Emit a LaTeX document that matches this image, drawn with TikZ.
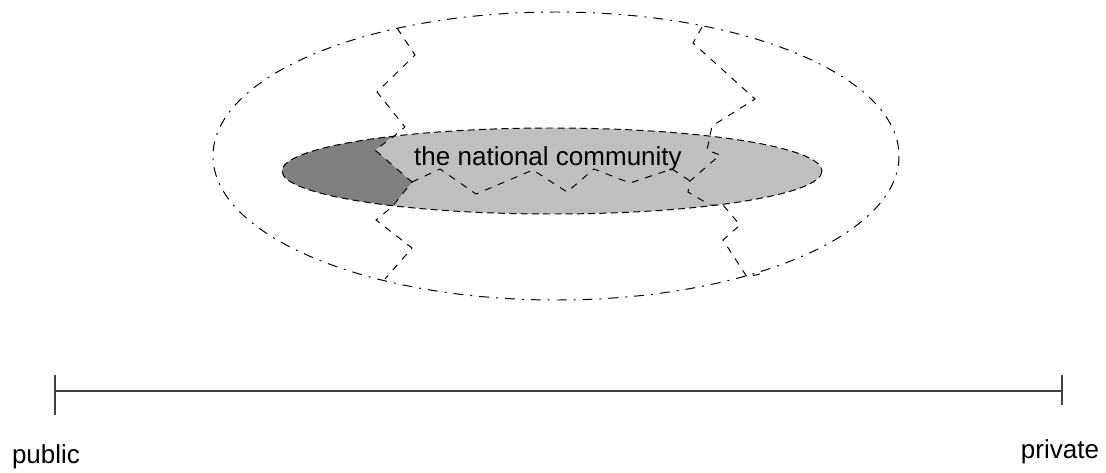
\documentclass[tikz,border=0pt]{standalone}
\usepackage{fontspec}
\setmainfont{Liberation Sans}
\usetikzlibrary{arrows}
\definecolor{lightgrey}{gray}{0.75}
\definecolor{darkgrey}{gray}{0.5}
\definecolor{axisgrey}{gray}{0.25}

\begin{document}
\begin{tikzpicture}[x=0.025cm, y=-0.025cm, line width=0.7pt,
	dashdot/.style={dash pattern=on 7pt off 5pt on 1.4pt off 5pt},
	dashline/.style={dash pattern=on 5pt off 3pt},
	zigline/.style={dash pattern=on 5pt off 5pt},
	tagtext/.style={font=\fontsize{18.5}{22}\selectfont, inner sep=0pt}]
\useasboundingbox (0,0) rectangle (1106,473);

\fill[lightgrey] (552,171) ellipse [x radius=270, y radius=43];
\begin{scope}
\clip (552,171) ellipse [x radius=270, y radius=43];
\fill[darkgrey] (395,100) -- (393,136) -- (375,150) -- (412,182) -- (392,207) 
-- (392,230) -- (250,230) -- (250,100) -- cycle;
\end{scope}
\draw[dashline] (552,171) ellipse [x radius=270, y radius=43];
\draw[dashdot] (556,156) ellipse [x radius=343, y radius=144];

\draw[zigline] (397,28) -- (415,55) -- (377,92) -- (405,127) -- (393,137) 
-- (375,150) -- (412,182) -- (392,207) -- (376,220) -- (412,248) -- (385,279);
\draw[zigline] (412,182) -- (440,169) -- (476,194) -- (533,170) -- (567,192) 
-- (594,169) -- (630,183) -- (672,169) -- (690,181);
\draw[zigline] (702,27) -- (693,43) -- (755,99) -- (712,126) -- (707,150) 
-- (720,155) -- (690,181) -- (688,192) -- (710,205) -- (723,205) -- (740,225) 
-- (723,240) -- (747,277) -- (760,274);

\node[tagtext, anchor=base] (community) at (548,165) {the national community};

\coordinate (pubend) at (55,391);
\coordinate (privend) at (1062,391);
\draw[axisgrey, line width=1.4pt] (pubend) -- (privend);
\foreach \p/\len in {pubend/24, privend/14}
\draw[shift = {(\p)}, axisgrey, line width=1.4pt] (0,-16) -- (0,\len);

\node[tagtext, anchor=base] (public) at (46,463) {public};
\node[tagtext, anchor=base] (private) at (1060,458) {private};

\end{tikzpicture}
\end{document}
